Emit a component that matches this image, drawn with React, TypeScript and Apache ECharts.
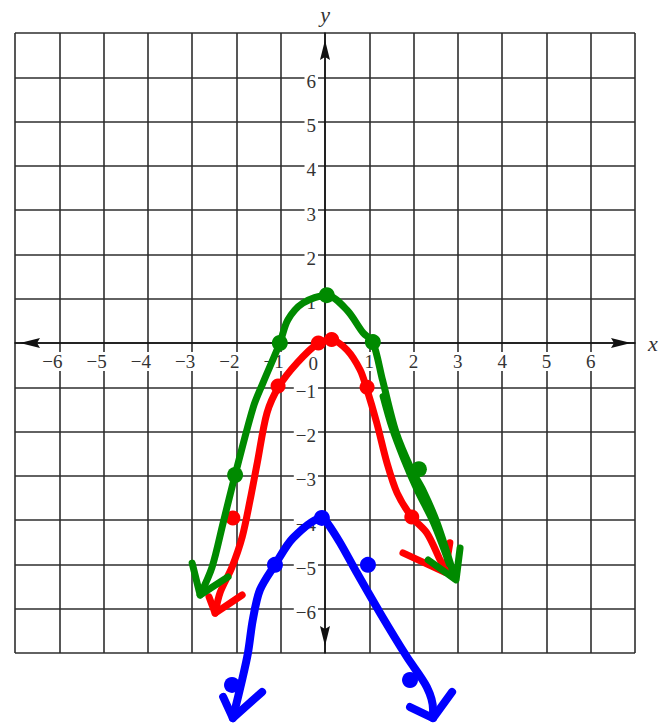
import React, { useEffect, useRef } from 'react';
import * as echarts from 'echarts';

// Axis tick labels (graph units)
const X_TICK_LABELS = [-6, -5, -4, -3, -2, -1, 1, 2, 3, 4, 5, 6];
const Y_TICK_LABELS = [-6, -5, -4, -3, -2, -1, 1, 2, 3, 4, 5, 6];
const ORIGIN_LABEL = '0';

// Hand-sketched parabolas, [x, y] in graph units
const GREEN_CURVE = [
  [-2.82, -5.69], [-2.55, -5.06], [-2.3, -4.06], [-2.03, -2.98], [-1.62, -1.45], [-1.4, -0.9],
  [-1.02, 0], [-0.84, 0.52], [-0.5, 0.9], [0.04, 1.08], [0.5, 0.74], [0.86, 0.23], [1.08, 0.02],
  [1.3, -0.84], [1.6, -2.0], [1.95, -2.85], [2.21, -3.32], [2.53, -4.06], [2.93, -5.3],
];
const GREEN_RETRACE = [[1.3, -1.2], [1.5, -1.9], [1.76, -2.6], [2.07, -3.32], [2.44, -4.06], [2.8, -5.0]];
const GREEN_ARROW_LEFT = [[-3.0, -4.97], [-2.82, -5.69], [-2.19, -5.28]];
const GREEN_ARROW_RIGHT = [[2.33, -4.9], [2.96, -5.35], [3.05, -4.63]];
const GREEN_POINTS = [[-2.03, -2.98], [-1.02, 0], [0.04, 1.08], [1.08, 0.02], [2.12, -2.85]];

const RED_CURVE = [
  [-2.48, -6.1], [-2.37, -5.64], [-2.1, -5.06], [-1.87, -4.38], [-1.69, -3.54], [-1.53, -2.71],
  [-1.31, -1.58], [-1.04, -0.98], [-0.63, -0.45], [-0.15, 0], [0.15, 0.07], [0.5, -0.16],
  [0.79, -0.6], [0.93, -0.99], [1.17, -1.81], [1.4, -2.71], [1.63, -3.39], [1.96, -3.93],
  [2.3, -4.29], [2.6, -4.9], [2.71, -5.12],
];
const RED_ARROW_LEFT = [[-2.62, -5.73], [-2.48, -6.1], [-1.87, -5.69]];
const RED_ARROW_RIGHT = [[1.76, -4.74], [2.71, -5.18], [2.82, -4.51]];
const RED_POINTS = [[-2.08, -3.95], [-1.06, -0.97], [-0.15, 0], [0.15, 0.08], [0.95, -1.0], [1.96, -3.93]];

const BLUE_CURVE = [
  [-2.08, -8.47], [-1.87, -7.6], [-1.74, -7.0], [-1.63, -6.25], [-1.47, -5.58], [-1.13, -5.01],
  [-0.72, -4.4], [-0.07, -3.95], [0.05, -4.06], [0.34, -4.51], [0.72, -5.19], [1.24, -6.09],
  [1.85, -7.09], [2.3, -7.77], [2.44, -8.28], [2.44, -8.47],
];
const BLUE_ARROW_LEFT = [[-2.3, -7.99], [-2.08, -8.47], [-1.42, -7.88]];
const BLUE_ARROW_RIGHT = [[1.92, -8.22], [2.44, -8.47], [2.87, -7.88]];
const BLUE_POINTS = [[-0.07, -3.95], [-1.13, -5.01], [0.97, -5.01], [-2.1, -7.72], [1.92, -7.61]];

const GREEN = '#008a00';
const RED = '#ff0000';
const BLUE = '#0000ff';

const SERIF = "'Liberation Serif', 'DejaVu Serif', serif";
const LABEL_COLOR = '#333';
const GRID_COLOR = '#2e2e2e';
const ARROW = 'path://M5 0L10 20L5 17L0 20Z';

// Grid box in pixels; the axes cross at the centre of a 14 x 14 unit grid
const GRID_LEFT = 15;
const GRID_TOP = 33;
const GRID_SIZE = 620;

const fmt = (v: number) => (v < 0 ? '\u2212' + Math.abs(v) : String(v));

function stroke(data: number[][], color: string, width: number, smooth = 0.3) {
  return {
    type: 'line',
    data,
    smooth,
    symbol: 'none',
    showSymbol: false,
    clip: false,
    silent: true,
    lineStyle: { color, width, cap: 'round', join: 'round' },
  };
}

function dots(data: number[][], color: string, size: number) {
  return {
    type: 'scatter',
    data,
    symbol: 'circle',
    symbolSize: size,
    clip: false,
    silent: true,
    itemStyle: { color, opacity: 1 },
  };
}

const tokenBase = { fontFamily: SERIF, fontSize: 19, color: LABEL_COLOR };

export default function App() {
  const ref = useRef<HTMLDivElement>(null);

  useEffect(() => {
    if (!ref.current) return;
    const chart = echarts.init(ref.current, undefined, { renderer: 'svg' });
    const half = GRID_SIZE / 2;
    chart.setOption({
      animation: false,
      backgroundColor: '#fff',
      grid: {
        left: GRID_LEFT,
        top: GRID_TOP,
        width: GRID_SIZE,
        height: GRID_SIZE,
        containLabel: false,
        outerBoundsMode: 'none',
      },
      xAxis: {
        type: 'value',
        position: 'bottom',
        offset: -half,
        min: -7,
        max: 7,
        interval: 1,
        name: 'x',
        nameLocation: 'end',
        nameGap: 13,
        nameTextStyle: { fontFamily: SERIF, fontStyle: 'italic', fontSize: 22, color: LABEL_COLOR },
        axisLine: {
          onZero: false,
          lineStyle: { color: '#111', width: 1.5 },
          symbol: [ARROW, ARROW],
          symbolSize: [10, 21],
          symbolOffset: [15, -14],
        },
        axisTick: { show: false },
        splitLine: { show: true, lineStyle: { color: GRID_COLOR, width: 1.6 } },
        axisLabel: {
          margin: 9,
          formatter: (v: number) => {
            if (!X_TICK_LABELS.includes(v)) return '';
            return v < 0 ? `{n|${fmt(v)}}` : `{p|${fmt(v)}}`;
          },
          rich: {
            n: { ...tokenBase, backgroundColor: '#fff', padding: [0, 16, 0, 2] },
            p: { ...tokenBase, backgroundColor: '#fff', padding: [0, 2, 0, 2] },
          },
        },
      },
      yAxis: {
        type: 'value',
        position: 'left',
        offset: -half,
        min: -7,
        max: 7,
        interval: 1,
        name: 'y',
        nameLocation: 'end',
        nameGap: 8,
        nameTextStyle: { fontFamily: SERIF, fontStyle: 'italic', fontSize: 22, color: LABEL_COLOR },
        axisLine: {
          onZero: false,
          lineStyle: { color: '#111', width: 1.5 },
          symbol: [ARROW, ARROW],
          symbolSize: [10, 21],
          symbolOffset: [17, -17],
        },
        axisTick: { show: false },
        splitLine: { show: true, lineStyle: { color: GRID_COLOR, width: 1.6 } },
        axisLabel: {
          margin: 7,
          formatter: (v: number) => {
            if (v === 0) return `{z|${ORIGIN_LABEL}}`;
            if (!Y_TICK_LABELS.includes(v)) return '';
            return `{t|${fmt(v)}}`;
          },
          rich: {
            t: { ...tokenBase, backgroundColor: '#fff', padding: [8, 2, 0, 2] },
            z: { ...tokenBase, padding: [40, 0, 0, 0] },
          },
        },
      },
      series: [
        stroke(RED_CURVE, RED, 7),
        stroke(RED_ARROW_LEFT, RED, 7, 0),
        stroke(RED_ARROW_RIGHT, RED, 7, 0),
        dots(RED_POINTS, RED, 15),
        stroke(GREEN_CURVE, GREEN, 7),
        stroke(GREEN_RETRACE, GREEN, 6),
        stroke(GREEN_ARROW_LEFT, GREEN, 7, 0),
        stroke(GREEN_ARROW_RIGHT, GREEN, 7, 0),
        dots(GREEN_POINTS, GREEN, 16),
        stroke(BLUE_CURVE, BLUE, 8),
        stroke(BLUE_ARROW_LEFT, BLUE, 8, 0),
        stroke(BLUE_ARROW_RIGHT, BLUE, 8, 0),
        dots(BLUE_POINTS, BLUE, 16),
      ],
    });
    return () => chart.dispose();
  }, []);

  return (
    <div
      ref={ref}
      style={{ position: 'absolute', left: 0, top: 0, width: 667, height: 723, background: '#fff' }}
    />
  );
}
